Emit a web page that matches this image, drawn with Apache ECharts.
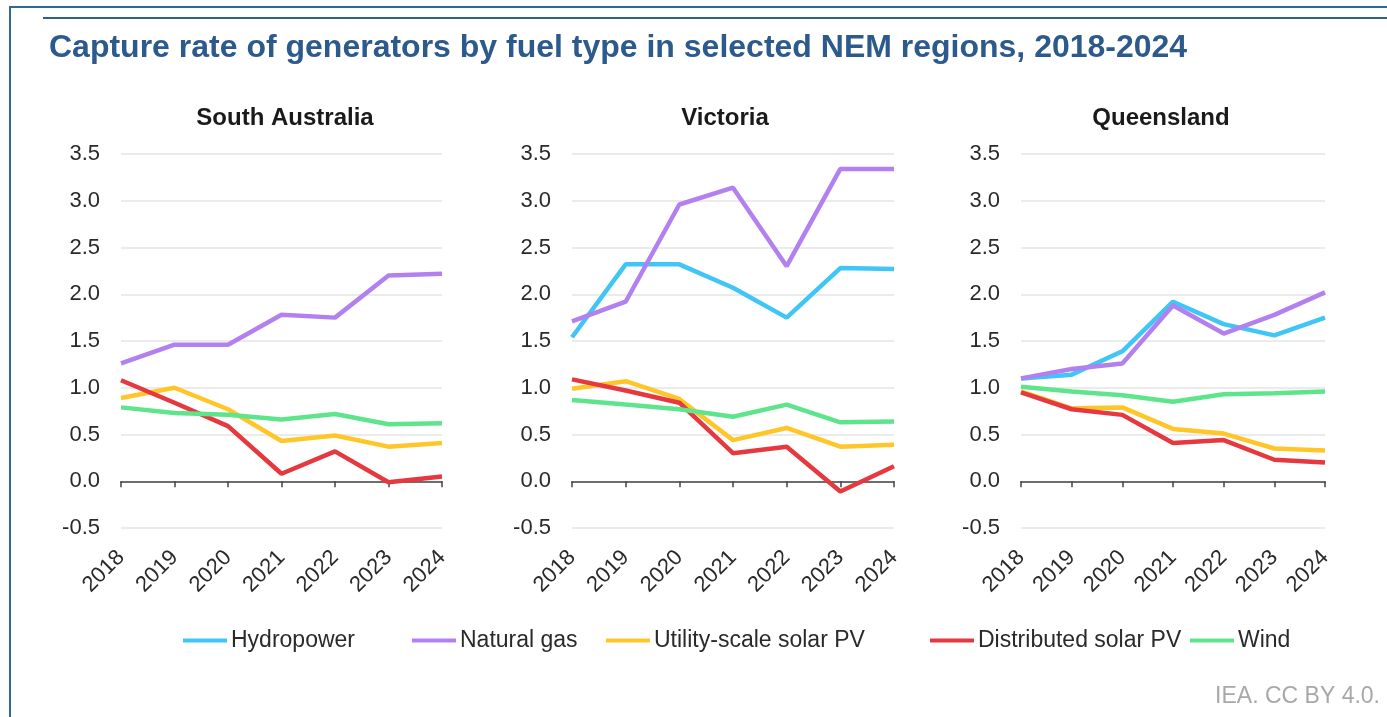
<!DOCTYPE html>
<html>
<head>
<meta charset="utf-8">
<title>Capture rate of generators by fuel type in selected NEM regions, 2018-2024</title>
<script src="https://cdn.jsdelivr.net/npm/echarts@6/dist/echarts.min.js"></script>
<style>
    html, body { margin: 0; padding: 0; background: #fff; }
    #chart { width: 1387px; height: 717px; }
</style>
</head>
<body>
<div id="chart"></div>
<script>
// --- data ---
const years = ['2018', '2019', '2020', '2021', '2022', '2023', '2024'];
const yTicks = { min: -0.5, max: 3.5, step: 0.5 };

const regions = ['South Australia', 'Victoria', 'Queensland'];
const fuels = ['Hydropower', 'Natural gas', 'Utility-scale solar PV', 'Distributed solar PV', 'Wind'];

// South Australia (no hydropower)
const saGas     = [1.26, 1.46, 1.46, 1.78, 1.75, 2.20, 2.22];
const saUtility = [0.89, 1.00, 0.77, 0.43, 0.49, 0.37, 0.41];
const saDistrib = [1.08, 0.84, 0.59, 0.08, 0.32, -0.01, 0.05];
const saWind    = [0.79, 0.73, 0.71, 0.66, 0.72, 0.61, 0.62];

// Victoria
const vicHydro   = [1.54, 2.32, 2.32, 2.07, 1.75, 2.28, 2.27];
const vicGas     = [1.71, 1.92, 2.96, 3.14, 2.30, 3.34, 3.34];
const vicUtility = [0.99, 1.07, 0.88, 0.44, 0.57, 0.37, 0.39];
const vicDistrib = [1.09, 0.97, 0.84, 0.30, 0.37, -0.11, 0.16];
const vicWind    = [0.87, 0.82, 0.77, 0.69, 0.82, 0.63, 0.64];

// Queensland
const qldHydro   = [1.10, 1.14, 1.39, 1.92, 1.68, 1.56, 1.75];
const qldGas     = [1.10, 1.20, 1.26, 1.88, 1.58, 1.78, 2.02];
const qldUtility = [0.96, 0.78, 0.79, 0.56, 0.51, 0.35, 0.33];
const qldDistrib = [0.95, 0.77, 0.71, 0.41, 0.44, 0.23, 0.20];
const qldWind    = [1.01, 0.96, 0.92, 0.85, 0.93, 0.94, 0.96];

const regionData = [
    { 'Natural gas': saGas, 'Utility-scale solar PV': saUtility, 'Distributed solar PV': saDistrib, 'Wind': saWind },
    { 'Hydropower': vicHydro, 'Natural gas': vicGas, 'Utility-scale solar PV': vicUtility, 'Distributed solar PV': vicDistrib, 'Wind': vicWind },
    { 'Hydropower': qldHydro, 'Natural gas': qldGas, 'Utility-scale solar PV': qldUtility, 'Distributed solar PV': qldDistrib, 'Wind': qldWind }
];

// --- styling ---
const colors = {
    'Hydropower': '#40c6f6',
    'Natural gas': '#b381ef',
    'Utility-scale solar PV': '#ffc629',
    'Distributed solar PV': '#e5393f',
    'Wind': '#5ee58c'
};
const FONT = 'Liberation Sans, Arial, sans-serif';
const TEXT = '#2a2a2a';

// plot areas in pixels
const grids = [
    { left: 121, top: 154, width: 321, height: 374 },
    { left: 572, top: 154, width: 322, height: 374 },
    { left: 1021, top: 154, width: 304, height: 374 }
];
const subtitleX = [285, 725, 1161];
const legendX = [183, 412, 606, 930, 1190];

const chart = echarts.init(document.getElementById('chart'), null, { renderer: 'canvas' });

const xAxes = [];
const yAxes = [];
const series = [];

grids.forEach((g, i) => {
    // axis that sits on zero: line + ticks only
    xAxes.push({
        gridIndex: i,
        type: 'category',
        data: years,
        boundaryGap: false,
        position: 'bottom',
        axisLine: { onZero: true, lineStyle: { color: '#444', width: 1.5 } },
        axisTick: { show: true, alignWithLabel: true, length: 6, lineStyle: { color: '#444', width: 1.5 } },
        axisLabel: { show: false },
        splitLine: { show: false }
    });
    // axis at the bottom: labels only
    xAxes.push({
        gridIndex: i,
        type: 'category',
        data: years,
        boundaryGap: false,
        position: 'bottom',
        axisLine: { show: false, onZero: false },
        axisTick: { show: false },
        axisLabel: {
            rotate: 45, margin: 26, fontSize: 22, color: TEXT, fontFamily: FONT,
            interval: 0
        },
        splitLine: { show: false }
    });
    yAxes.push({
        gridIndex: i,
        type: 'value',
        min: yTicks.min,
        max: yTicks.max,
        interval: yTicks.step,
        axisLine: { show: false },
        axisTick: { show: false },
        axisLabel: {
            margin: 21, fontSize: 22, color: TEXT, fontFamily: FONT,
            formatter: v => v.toFixed(1)
        },
        splitLine: { lineStyle: { color: '#e4e4e4', width: 1.5 } }
    });

    fuels.forEach(f => {
        const vals = regionData[i][f];
        if (!vals) return;
        series.push({
            name: f,
            type: 'line',
            xAxisIndex: i * 2,
            yAxisIndex: i,
            data: vals,
            showSymbol: false,
            smooth: false,
            lineStyle: { width: 4.5, color: colors[f] },
            itemStyle: { color: colors[f] },
            emphasis: { disabled: true }
        });
    });
});

const legends = fuels.map((f, k) => ({
    data: [f],
    left: legendX[k],
    top: 629,
    padding: 0,
    icon: 'rect',
    itemWidth: 44,
    itemHeight: 4,
    selectedMode: false,
    textStyle: { fontSize: 23, color: TEXT, fontFamily: FONT, padding: [0, 0, 0, -1] }
}));

const texts = [
    {
        type: 'text', x: 49, y: 48,
        style: {
            text: 'Capture rate of generators by fuel type in selected NEM regions, 2018-2024',
            font: 'bold 32px ' + FONT, fill: '#2c5a8c', align: 'left', verticalAlign: 'middle'
        }
    },
    {
        type: 'text', x: 1380, y: 697,
        style: { text: 'IEA. CC BY 4.0.', font: '23px ' + FONT, fill: '#a8a8a8', align: 'right', verticalAlign: 'middle' }
    }
];
regions.forEach((r, i) => {
    texts.push({
        type: 'text', x: subtitleX[i], y: 118,
        style: { text: r, font: 'bold 24px ' + FONT, fill: '#1a1a1a', align: 'center', verticalAlign: 'middle' }
    });
});

// frame and rule under the header
const frame = [
    { type: 'rect', shape: { x: 10, y: 7, width: 1400, height: 730 }, style: { fill: 'none', stroke: '#2f6a90', lineWidth: 2 } },
    { type: 'line', shape: { x1: 43, y1: 18, x2: 1387, y2: 18 }, style: { stroke: '#2f5f8e', lineWidth: 2 } }
];

chart.setOption({
    backgroundColor: '#ffffff',
    animation: false,
    grid: grids.map(g => ({ left: g.left, top: g.top, width: g.width, height: g.height, containLabel: false })),
    xAxis: xAxes,
    yAxis: yAxes,
    legend: legends,
    series: series,
    graphic: frame.concat(texts)
});
</script>
</body>
</html>
